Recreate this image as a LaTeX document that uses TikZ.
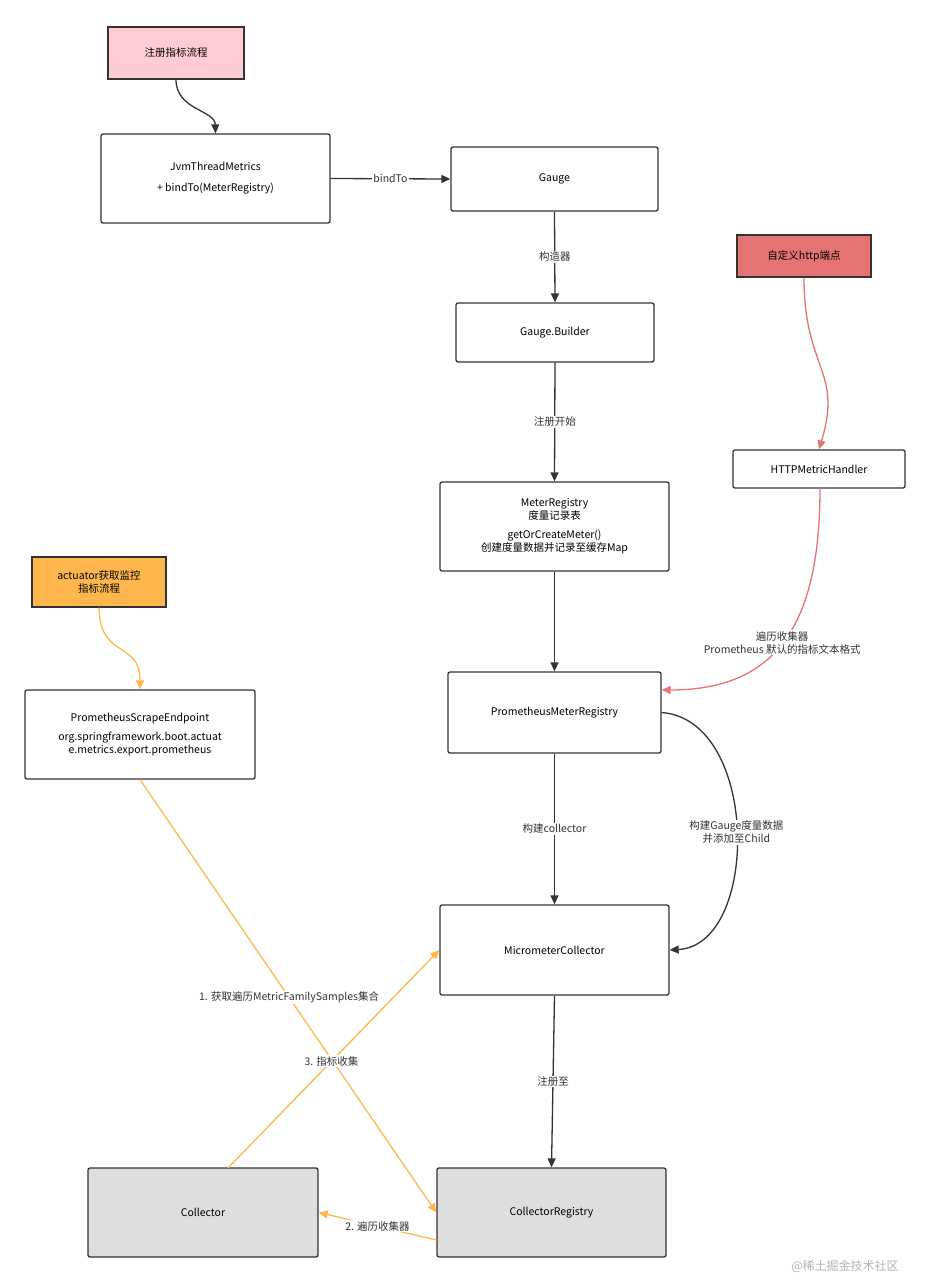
\documentclass[tikz,border=0pt]{standalone}
\usepackage{fontspec}
\setmainfont{Noto Sans CJK SC}
\usetikzlibrary{arrows.meta}
\definecolor{dk}{HTML}{333333}
\definecolor{org}{HTML}{FFB74D}
\definecolor{rd}{HTML}{E57373}
\tikzset{
  bx/.style={draw=dk,line width=1.3pt,rounded corners=2pt,fill=white,align=center,inner sep=0pt,font=\fontsize{10.5}{15}\selectfont},
  ar/.style={draw=dk,line width=1.3pt,-{Triangle[length=9pt,width=8pt]}},
  oar/.style={draw=org,line width=1.3pt,-{Triangle[length=9pt,width=8pt]}},
  rar/.style={draw=rd,line width=1.3pt,-{Triangle[length=9pt,width=8pt]}},
  lb/.style={fill=white,font=\fontsize{10.5}{13}\selectfont,inner sep=1pt,align=center,text=dk},
}
\begin{document}
\begin{tikzpicture}[x=1pt,y=-1pt]
\useasboundingbox (0,0) rectangle (930,1283);
\node[bx,sharp corners,fill={rgb,255:red,255;green,204;blue,211},minimum width=136pt,minimum height=52pt] (reg) at (176,53) {注册指标流程};
\node[bx,minimum width=229pt,minimum height=89pt] (jvm) at (215.5,178.5) {JvmThreadMetrics\\[6pt]+ bindTo(MeterRegistry)};
\node[bx,minimum width=207pt,minimum height=64pt] (gauge) at (554.5,179) {Gauge};
\node[bx,minimum width=198pt,minimum height=59pt] (builder) at (555,332.5) {Gauge.Builder};
\node[bx,minimum width=229pt,minimum height=89pt,font=\fontsize{10.5}{13}\selectfont] (mreg) at (554.5,526.5) {MeterRegistry\\度量记录表\\[6pt]getOrCreateMeter()\\创建度量数据并记录至缓存Map};
\node[bx,sharp corners,fill=rd,minimum width=134pt,minimum height=42pt] (custom) at (804,256) {自定义http端点};
\node[bx,minimum width=172pt,minimum height=38pt] (http) at (819,469) {HTTPMetricHandler};
\node[bx,minimum width=213pt,minimum height=81pt] (preg) at (554.5,712.5) {PrometheusMeterRegistry};
\node[bx,sharp corners,fill=org,minimum width=134pt,minimum height=50pt,font=\fontsize{10.5}{13}\selectfont] (act) at (99,582) {actuator获取监控\\指标流程};
\node[bx,minimum width=230pt,minimum height=89pt,font=\fontsize{10.5}{13}\selectfont] (scrape) at (140,734.5) {PrometheusScrapeEndpoint\\[6pt]org.springframework.boot.actuat\\e.metrics.export.prometheus};
\node[bx,minimum width=229pt,minimum height=90pt] (micro) at (554.5,950) {MicrometerCollector};
\node[bx,fill={rgb,255:red,222;green,222;blue,222},minimum width=230pt,minimum height=89pt] (coll) at (203,1212.5) {Collector};
\node[bx,fill={rgb,255:red,222;green,222;blue,222},minimum width=229pt,minimum height=89pt] (creg) at (551.5,1212.5) {CollectorRegistry};
% black connectors
\draw[ar] (reg.south) .. controls (176,110) and (215,110) .. (jvm.north);
\draw[ar] (jvm.east) -- node[lb]{bindTo} (gauge.west);
\draw[ar] (gauge.south) -- node[lb]{构造器} (builder.north);
\draw[ar] (builder.south) -- node[lb]{注册开始} (mreg.north);
\draw[ar] (mreg.south) -- (preg.north);
\draw[ar] (preg.south) -- node[lb]{构建collector} (micro.north);
\draw[ar] (micro.south) -- node[lb]{注册至} (creg.north);
\draw[ar] (preg.east) .. controls (760,720) and (760,945) .. node[lb,pos=0.5]{构建Gauge度量数据\\并添加至Child} (micro.east);
% red
\draw[rar] (custom.south) .. controls (804,370) and (843,370) .. (http.north);
\draw[rar] (820,488) .. controls (820,620) and (780,690) .. node[lb,pos=0.52]{遍历收集器\\Prometheus 默认的指标文本格式} (preg.east|-0,690);
% orange
\draw[oar] (act.south) .. controls (100,660) and (140,640) .. (scrape.north);
\draw[oar] (scrape.south) -- node[lb,pos=0.503]{1. 获取遍历MetricFamilySamples集合} (creg.west);
\draw[oar] (creg.west|-0,1240) -- node[lb]{2. 遍历收集器} (coll.east);
\coordinate (ct) at (228,1168);
\draw[oar] (ct) -- node[lb,pos=0.49]{3. 指标收集} (micro.west);
\node[font=\fontsize{12}{14}\selectfont,text=gray!60] (wm) at (845,1266) {@稀土掘金技术社区};
\end{tikzpicture}
\end{document}
